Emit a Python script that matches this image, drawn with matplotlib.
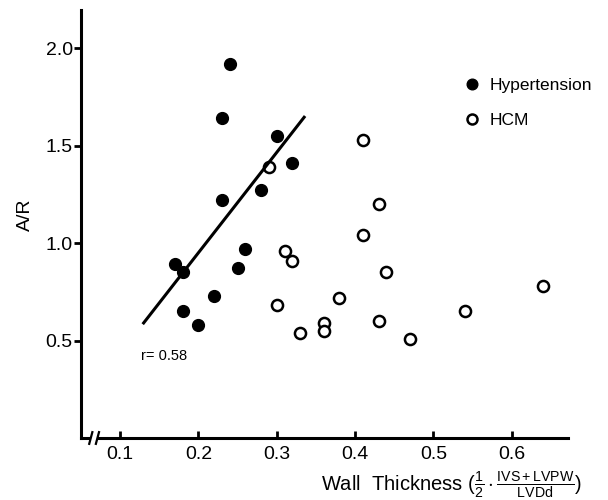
import numpy as np
import matplotlib
matplotlib.use("Agg")
import matplotlib.pyplot as plt

plt.rcParams['font.family'] = ['Liberation Sans', 'DejaVu Sans']
plt.rcParams['mathtext.fontset'] = 'custom'
plt.rcParams['mathtext.rm'] = 'Liberation Sans'
plt.rcParams['mathtext.it'] = 'Liberation Sans'

# Hypertension (filled) - wall thickness vs A/R
hyp_x = [0.24, 0.23, 0.30, 0.32, 0.28, 0.23, 0.26, 0.17, 0.18, 0.25, 0.22, 0.18, 0.20]
hyp_y = [1.92, 1.64, 1.55, 1.41, 1.27, 1.22, 0.97, 0.89, 0.85, 0.87, 0.73, 0.65, 0.58]

# HCM (open)
hcm_x = [0.29, 0.41, 0.43, 0.41, 0.31, 0.32, 0.44, 0.64, 0.38, 0.30, 0.54, 0.43, 0.36, 0.36, 0.33, 0.47]
hcm_y = [1.39, 1.53, 1.20, 1.04, 0.96, 0.91, 0.85, 0.78, 0.72, 0.68, 0.65, 0.60, 0.59, 0.55, 0.54, 0.51]

# regression line for hypertension group
fit_x = [0.13, 0.335]
fit_y = [0.59, 1.645]

x_ticks = [0.1, 0.2, 0.3, 0.4, 0.5, 0.6]
y_ticks = [0.5, 1.0, 1.5, 2.0]

fig = plt.figure(figsize=(6.08, 5.0), dpi=100)
ax = fig.add_axes([81/608, 1 - 438/500, (568-81)/608, (438-10)/500])

ax.plot(hyp_x, hyp_y, 'o', color='black', ms=8.5, label='Hypertension')
ax.plot(hcm_x, hcm_y, 'o', mfc='white', mec='black', mew=1.8, ms=8, label='HCM')
ax.plot(fit_x, fit_y, color='black', lw=2.2)

ax.text(0.127, 0.42, 'r= 0.58', fontsize=10.5, va='center', ha='left')

ax.set_xlim(0.05, 0.672)
ax.set_ylim(0.0, 2.195)
ax.set_xticks(x_ticks)
ax.set_xticklabels([str(v) for v in x_ticks])
ax.set_yticks(y_ticks)
ax.set_yticklabels(['0.5', '1.0', '1.5', '2.0'])

for s in ['top', 'right']:
    ax.spines[s].set_visible(False)
for s in ['left', 'bottom']:
    ax.spines[s].set_linewidth(2.2)

ax.tick_params(axis='y', direction='out', length=5, width=2, labelsize=14, pad=1)
ax.tick_params(axis='x', direction='in', length=5, width=2, labelsize=14, pad=6)

# axis break marks on x axis
ax.plot([0.0625, 0.071], [0.0, 0.0], color='white', lw=4, solid_capstyle='butt',
        clip_on=False, zorder=5)
for bx in [0.0625, 0.071]:
    ax.plot([bx - 0.002, bx + 0.002], [-0.03, 0.03], color='black', lw=1.6,
            clip_on=False, zorder=6)

fig.text(25/608, 1 - 215/500, 'A/R', fontsize=14, rotation=90, ha='center', va='center')

fig.text(0.958, 0.03, r'Wall  Thickness $(\frac{1}{2}\cdot\frac{\mathrm{IVS+LVPW}}{\mathrm{LVDd}})$',
         fontsize=14.5, ha='right', va='center')

leg = ax.legend(loc='upper left', bbox_to_anchor=(0.757, 0.878), frameon=False,
                fontsize=12.5, handlelength=0.8, handletextpad=0.6, labelspacing=1.15,
                markerscale=0.9)

fig.savefig('out.png', dpi=100)
